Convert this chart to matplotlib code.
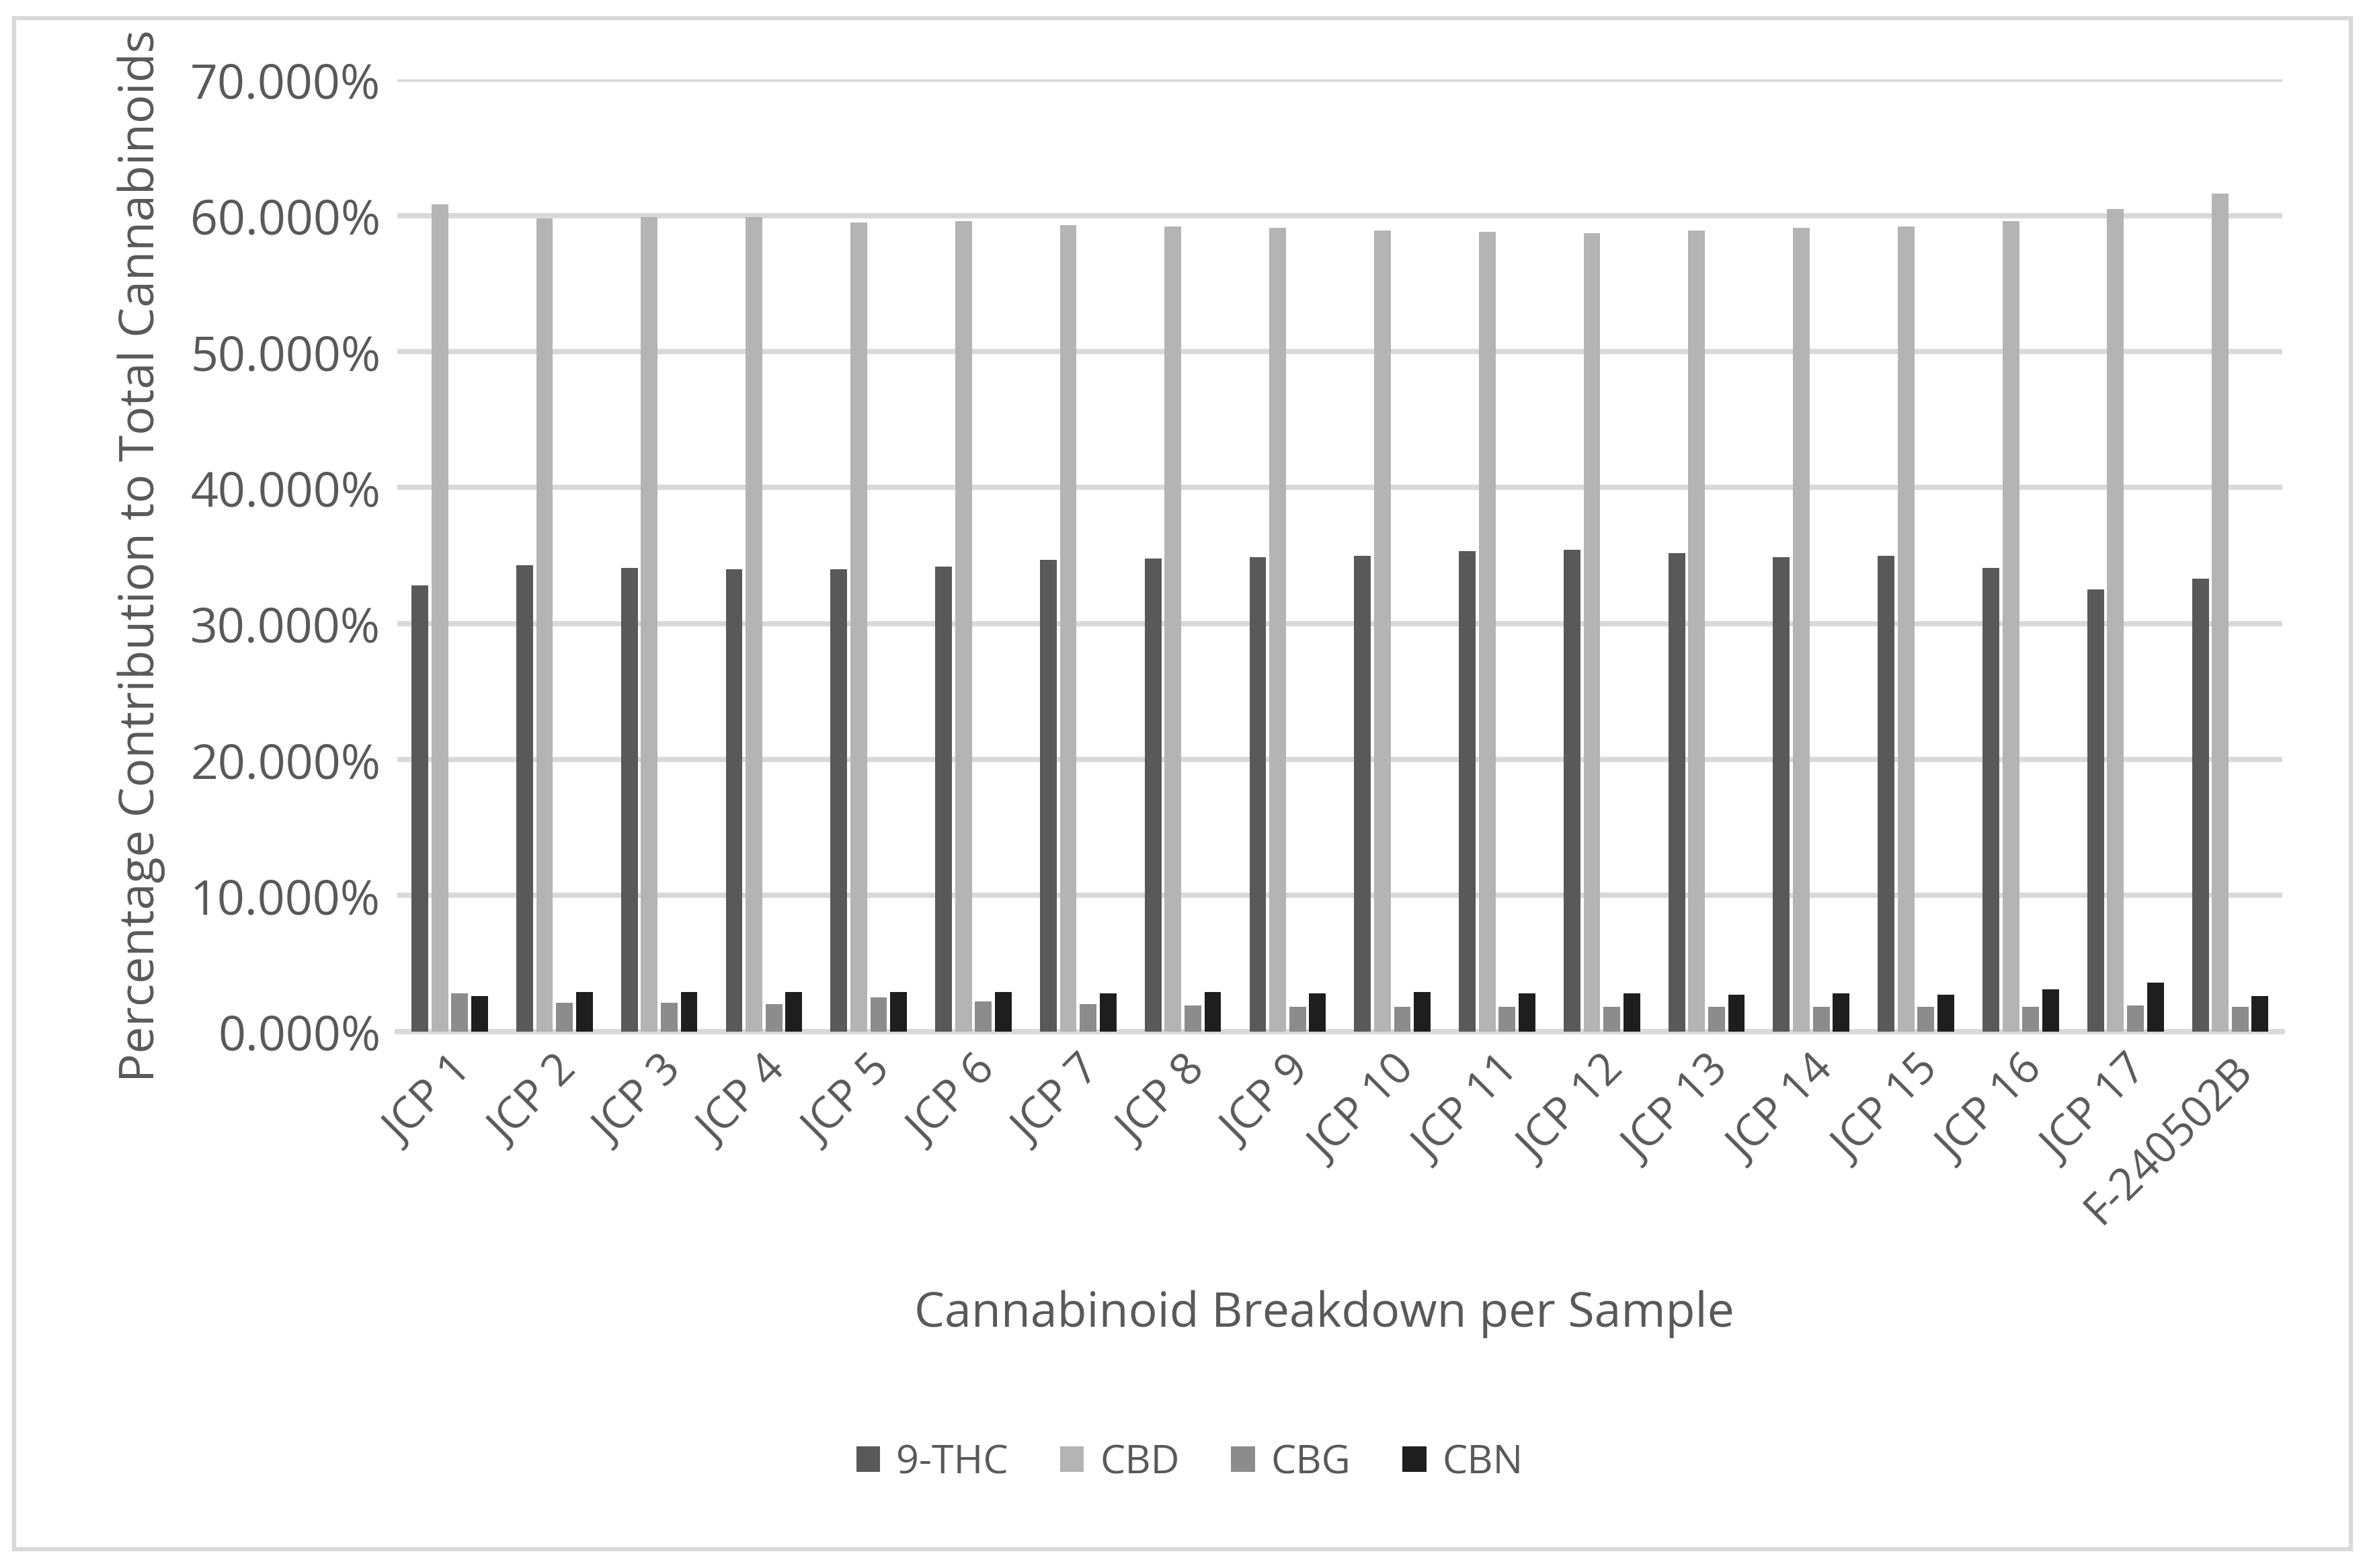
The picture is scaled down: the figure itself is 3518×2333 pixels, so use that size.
import matplotlib
matplotlib.use("Agg")
import matplotlib.pyplot as plt
import numpy as np

categories = ["JCP 1","JCP 2","JCP 3","JCP 4","JCP 5","JCP 6","JCP 7","JCP 8","JCP 9","JCP 10",
              "JCP 11","JCP 12","JCP 13","JCP 14","JCP 15","JCP 16","JCP 17","F-240502B"]
thc = [32.8,34.3,34.1,34.0,34.0,34.2,34.7,34.8,34.9,35.0,35.3,35.4,35.2,34.9,35.0,34.1,32.5,33.3]
cbd = [60.8,59.8,59.9,59.9,59.5,59.6,59.3,59.2,59.1,58.9,58.8,58.7,58.9,59.1,59.2,59.6,60.5,61.6]
cbg = [2.8,2.1,2.1,2.0,2.5,2.2,2.0,1.9,1.8,1.8,1.8,1.8,1.8,1.8,1.8,1.8,1.9,1.8]
cbn = [2.6,2.9,2.9,2.9,2.9,2.9,2.8,2.9,2.8,2.9,2.8,2.8,2.7,2.8,2.7,3.1,3.6,2.6]
series = [("9-THC", thc, "#595959"), ("CBD", cbd, "#b4b4b4"), ("CBG", cbg, "#8c8c8c"), ("CBN", cbn, "#1e1e1e")]

plt.rcParams['font.family'] = ['Open Sans', 'DejaVu Sans']
fig = plt.figure(figsize=(15.68, 10.40), dpi=224.4)
ax = fig.add_axes([0.168, 0.342, 0.797, 0.607])
x = np.arange(len(categories))
w = 0.16; step = 0.19
for i, (name, vals, col) in enumerate(series):
    ax.bar(x + (i - 1.5) * step, vals, w, color=col, label=name, zorder=3)
ax.set_xlim(-0.5, len(categories) - 0.5)
ax.set_ylim(0, 70)
ax.set_yticks(np.arange(0, 71, 10))
ax.set_yticklabels([f"{v:.3f}%" for v in np.arange(0, 71, 10)], fontsize=23, color="#595959")
ax.set_xticks(x)
ax.set_xticklabels(categories, rotation=45, ha="right", rotation_mode="anchor", fontsize=21, color="#595959")
ax.grid(axis="y", color="#d9d9d9", lw=2.5, zorder=0)
for s in ["top", "right", "left"]:
    ax.spines[s].set_visible(False)
ax.spines["bottom"].set_color("#d9d9d9"); ax.spines["bottom"].set_linewidth(2.5)
ax.tick_params(length=0, pad=8)
ax.set_ylabel("Percentage Contribution to Total Cannabinoids", fontsize=23, color="#595959", labelpad=12)
fig.text(0.56, 0.162, "Cannabinoid Breakdown per Sample", fontsize=23, color="#595959", ha="center", va="center")
fig.legend(loc="center", bbox_to_anchor=(0.503, 0.067), ncol=4, frameon=False, fontsize=19,
           handlelength=0.6, handleheight=0.6, columnspacing=1.3, handletextpad=0.4, labelcolor="#595959")
fig.patches.append(plt.Rectangle((0.006, 0.012), 0.988, 0.976, transform=fig.transFigure,
                                 fill=False, edgecolor="#d9d9d9", lw=2))
fig.savefig("out.png", dpi=224.4)
